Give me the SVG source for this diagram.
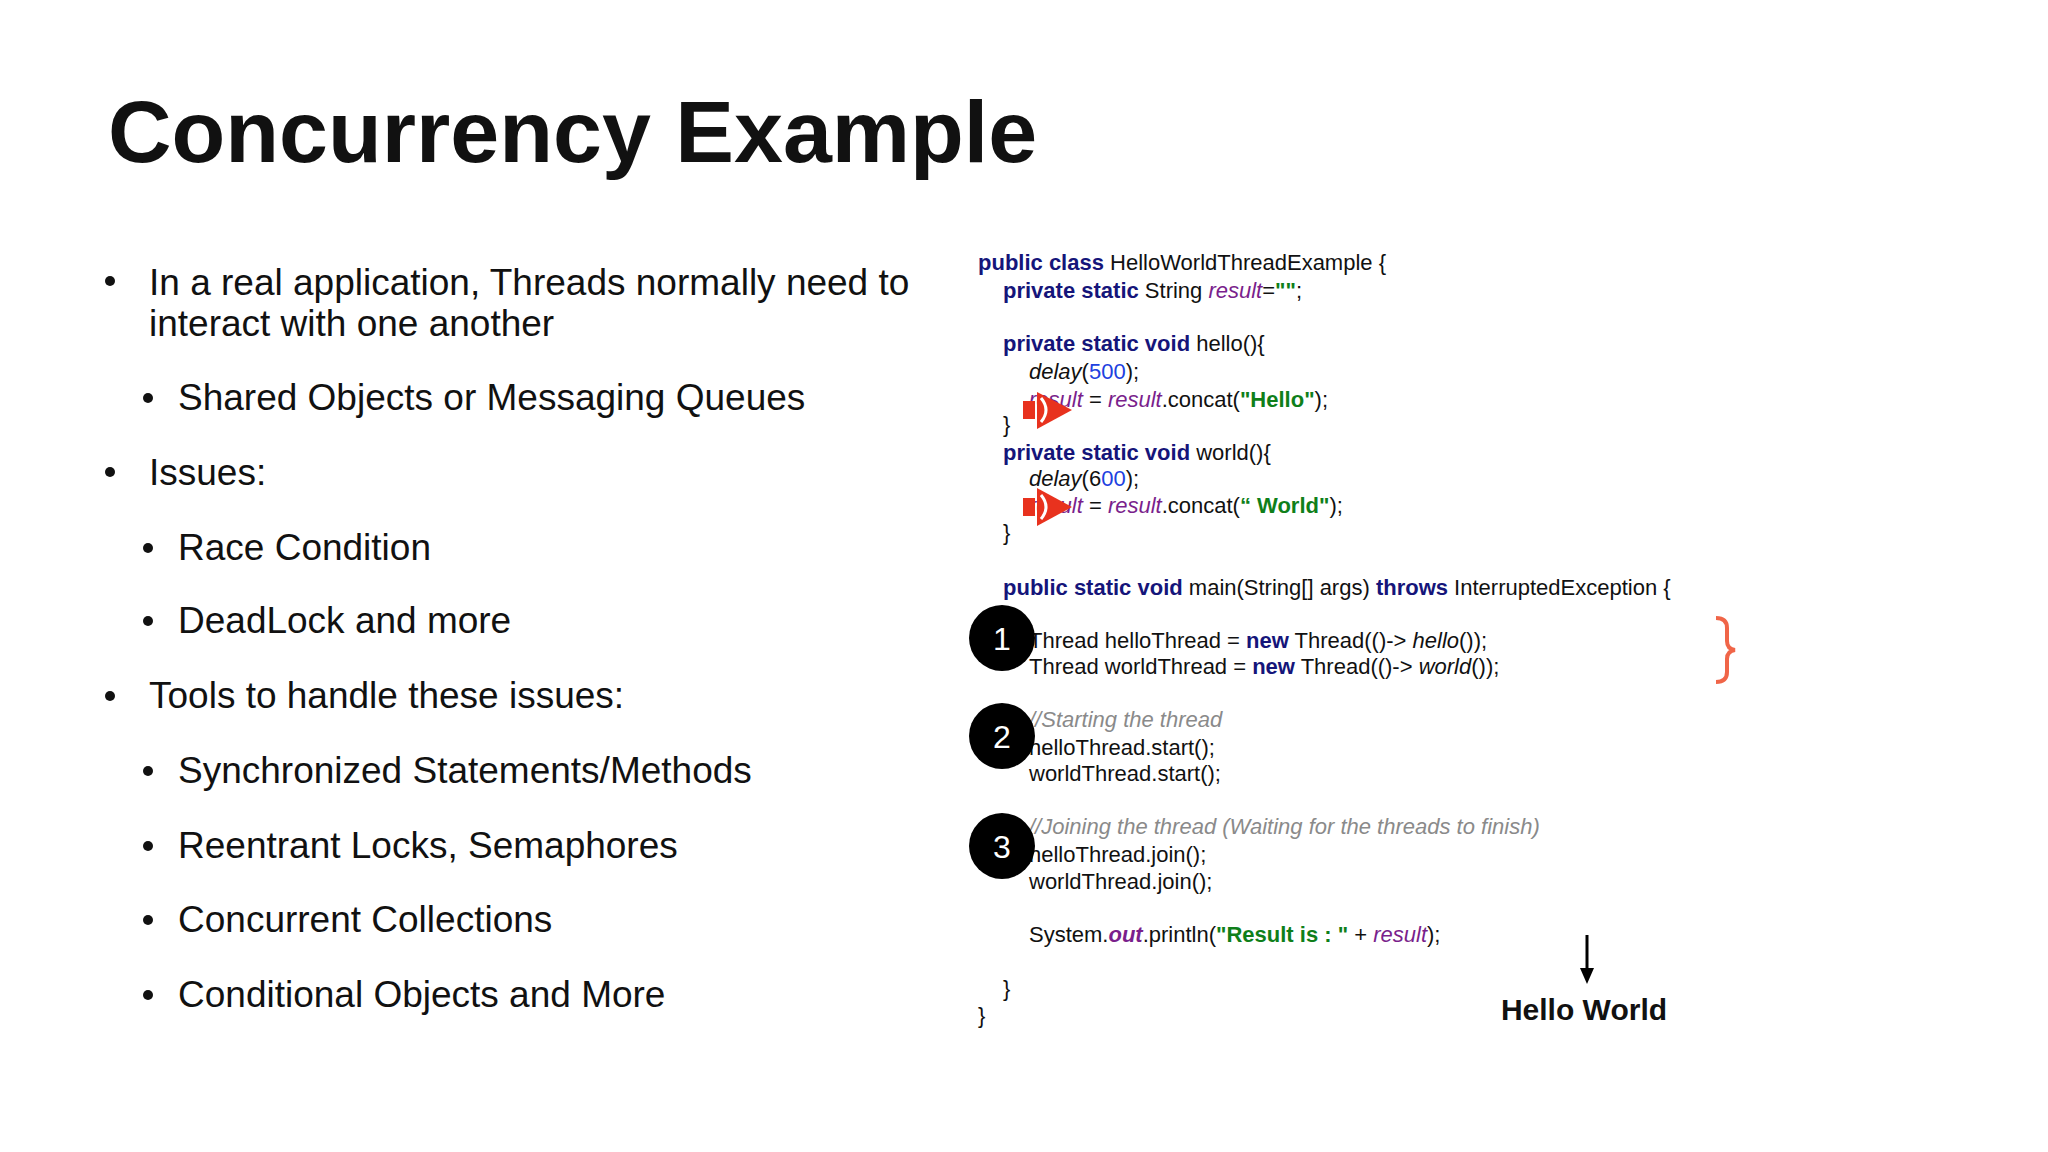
<svg xmlns="http://www.w3.org/2000/svg" width="2048" height="1152" viewBox="0 0 2048 1152">
<style>
text{font-family:"Liberation Sans",Arial,sans-serif;fill:#111}
.b{font-size:37px}
.c{font-size:22px}
.k{fill:#15157a;font-weight:bold}
.v{fill:#7a1f8c;font-style:italic}
.s{fill:#0f7f1a;font-weight:bold}
.n{fill:#2040e0}
.i{font-style:italic}
.cm{fill:#8a8a8a;font-style:italic}
.num{font-size:32px;fill:#fff;text-anchor:middle}
</style>
<rect width="2048" height="1152" fill="#fff"/>
<text x="108" y="162" style="font-size:88px;font-weight:bold">Concurrency Example</text>
<g id="bullets" class="b">
<circle cx="110" cy="281" r="5" fill="#111"/><circle cx="148" cy="398" r="5" fill="#111"/><circle cx="110" cy="472" r="5" fill="#111"/><circle cx="148" cy="548" r="5" fill="#111"/><circle cx="148" cy="621" r="5" fill="#111"/><circle cx="110" cy="696" r="5" fill="#111"/><circle cx="148" cy="771" r="5" fill="#111"/><circle cx="148" cy="846" r="5" fill="#111"/><circle cx="148" cy="920" r="5" fill="#111"/><circle cx="148" cy="995" r="5" fill="#111"/>
<text class="b" x="149" y="295">In a real application, Threads normally need to</text>
<text class="b" x="149" y="336">interact with one another</text>
<text class="b" x="178" y="410">Shared Objects or Messaging Queues</text>
<text class="b" x="149" y="485">Issues:</text>
<text class="b" x="178" y="560">Race Condition</text>
<text class="b" x="178" y="633">DeadLock and more</text>
<text class="b" x="149" y="708">Tools to handle these issues:</text>
<text class="b" x="178" y="783">Synchronized Statements/Methods</text>
<text class="b" x="178" y="858">Reentrant Locks, Semaphores</text>
<text class="b" x="178" y="932">Concurrent Collections</text>
<text class="b" x="178" y="1007">Conditional Objects and More</text>
</g>
<g id="code" class="c">
<text class="c" x="978" y="270"><tspan class="k">public class</tspan> HelloWorldThreadExample {</text>
<text class="c" x="1003" y="298"><tspan class="k">private static</tspan> String <tspan class="v">result</tspan>=<tspan class="s">""</tspan>;</text>
<text class="c" x="1003" y="351"><tspan class="k">private static void</tspan> hello(){</text>
<text class="c" x="1029" y="379"><tspan class="i">delay</tspan>(<tspan class="n">500</tspan>);</text>
<text class="c" x="1029" y="407"><tspan class="v">result</tspan> = <tspan class="v">result</tspan>.concat(<tspan class="s">"Hello"</tspan>);</text>
<text class="c" x="1003" y="432">}</text>
<text class="c" x="1003" y="460"><tspan class="k">private static void</tspan> world(){</text>
<text class="c" x="1029" y="486"><tspan class="i">delay</tspan>(6<tspan class="n">00</tspan>);</text>
<text class="c" x="1029" y="513"><tspan class="v">result</tspan> = <tspan class="v">result</tspan>.concat(<tspan class="s">“ World"</tspan>);</text>
<text class="c" x="1003" y="540">}</text>
<text class="c" x="1003" y="595"><tspan class="k">public static void</tspan> main(String[] args) <tspan class="k">throws</tspan> InterruptedException {</text>
<text class="c" x="1029" y="648">Thread helloThread = <tspan class="k">new</tspan> Thread(()-&gt; <tspan class="i">hello</tspan>());</text>
<text class="c" x="1029" y="674">Thread worldThread = <tspan class="k">new</tspan> Thread(()-&gt; <tspan class="i">world</tspan>());</text>
<text class="c" x="1029" y="727"><tspan class="cm">//Starting the thread</tspan></text>
<text class="c" x="1029" y="755">helloThread.start();</text>
<text class="c" x="1029" y="781">worldThread.start();</text>
<text class="c" x="1029" y="834"><tspan class="cm">//Joining the thread (Waiting for the threads to finish)</tspan></text>
<text class="c" x="1029" y="862">helloThread.join();</text>
<text class="c" x="1029" y="889">worldThread.join();</text>
<text class="c" x="1029" y="942">System.<tspan class="v" font-weight="bold">out</tspan>.println(<tspan class="s">"Result is : "</tspan> + <tspan class="v">result</tspan>);</text>
<text class="c" x="1003" y="996">}</text>
<text class="c" x="978" y="1023">}</text>
</g>
<g id="speaker1" fill="#e8321e">
<rect x="1023" y="401" width="12" height="18"/>
<path d="M1037 392 L1072 410 L1037 429 Z"/>
<path d="M1041 398 Q1051 410 1041 422" stroke="#fff" stroke-width="3" fill="none"/>
</g>
<g id="speaker2" fill="#e8321e">
<rect x="1023" y="498" width="12" height="18"/>
<path d="M1037 488 L1072 507 L1037 526 Z"/>
<path d="M1041 495 Q1051 507 1041 519" stroke="#fff" stroke-width="3" fill="none"/>
</g>
<g id="step1"><circle cx="1002" cy="638" r="33" fill="#000"/><text class="num" x="1002" y="650">1</text></g>
<g id="step2"><circle cx="1002" cy="736" r="33" fill="#000"/><text class="num" x="1002" y="748">2</text></g>
<g id="step3"><circle cx="1002" cy="846" r="33" fill="#000"/><text class="num" x="1002" y="858">3</text></g>
<path id="brace" d="M1716 618 Q1727 618 1727 628 L1727 641 Q1727 649 1735 650 Q1727 651 1727 659 L1727 672 Q1727 682 1716 682" fill="none" stroke="#f06548" stroke-width="4"/>
<g id="connectors">
<line x1="1587" y1="935" x2="1587" y2="971" stroke="#000" stroke-width="3"/>
<path d="M1580 968 L1594 968 L1587 984 Z" fill="#000"/>
</g>
<g id="output"><text x="1600" y="1030" text-anchor="middle" style="font-size:30px;font-weight:bold" transform="translate(-16,-10)">Hello World</text></g>
</svg>
